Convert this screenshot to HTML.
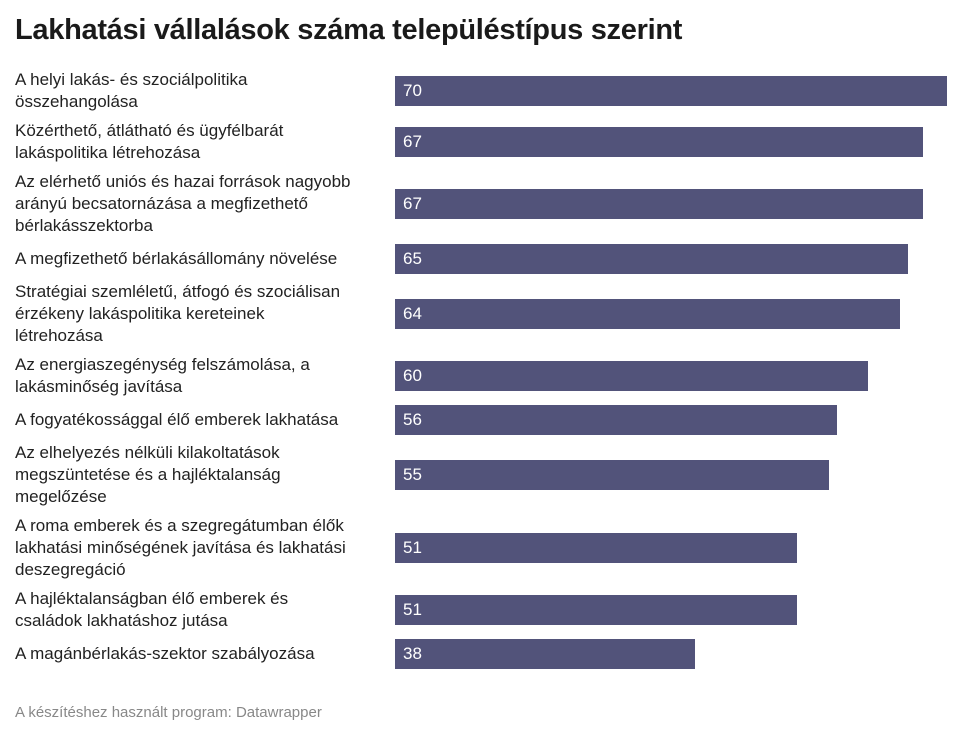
<!DOCTYPE html>
<html><head><meta charset="utf-8">
<style>
body{margin:0;background:#fff;width:964px;height:740px;overflow:hidden;font-family:"Liberation Sans",Arial,sans-serif;position:relative}
h1{position:absolute;left:15px;top:14px;margin:0;font-size:29px;font-weight:bold;color:#1a1a1a;letter-spacing:-0.3px}
#chart{position:absolute;left:15px;top:69px;width:940px;display:flex;flex-direction:column;gap:7px}
.row{display:flex;align-items:center;position:relative}
.lab{width:375px;font-size:17px;line-height:22px;color:#222}
.barwrap{position:absolute;left:380px;top:0;bottom:0;display:flex;align-items:center}
.bar{height:30px;background:#52537a;color:#fff;font-size:17px;line-height:30px;padding-left:8px;box-sizing:border-box}
.foot{position:absolute;left:15px;top:704px;font-size:15px;color:#888}
</style></head><body>
<h1>Lakhatási vállalások száma településtípus szerint</h1>
<div id="chart"></div>
<div class="foot">A készítéshez használt program: Datawrapper</div>
<script>
const categories=[
"A helyi lakás- és szociálpolitika<br>összehangolása",
"Közérthető, átlátható és ügyfélbarát<br>lakáspolitika létrehozása",
"Az elérhető uniós és hazai források nagyobb<br>arányú becsatornázása a megfizethető<br>bérlakásszektorba",
"A megfizethető bérlakásállomány növelése",
"Stratégiai szemléletű, átfogó és szociálisan<br>érzékeny lakáspolitika kereteinek<br>létrehozása",
"Az energiaszegénység felszámolása, a<br>lakásminőség javítása",
"A fogyatékossággal élő emberek lakhatása",
"Az elhelyezés nélküli kilakoltatások<br>megszüntetése és a hajléktalanság<br>megelőzése",
"A roma emberek és a szegregátumban élők<br>lakhatási minőségének javítása és lakhatási<br>deszegregáció",
"A hajléktalanságban élő emberek és<br>családok lakhatáshoz jutása",
"A magánbérlakás-szektor szabályozása"];
const values=[70,67,67,65,64,60,56,55,51,51,38];
const maxValue=70;
const plotWidth=552;
function x(v){return v/maxValue*plotWidth;}
const chart=document.getElementById('chart');
categories.forEach((c,i)=>{
  const row=document.createElement('div');row.className='row';
  
  
  const lines=c.split('<br>').length;
  row.style.height=Math.max(30,lines*22)+'px';
  const lab=document.createElement('div');lab.className='lab';lab.innerHTML=c;
  
  
  const bw=document.createElement('div');bw.className='barwrap';
  const bar=document.createElement('div');bar.className='bar';
  
  
  bar.style.width=x(values[i])+'px';bar.textContent=values[i];
  bw.appendChild(bar);row.appendChild(lab);row.appendChild(bw);chart.appendChild(row);
});
</script>
</body></html>
